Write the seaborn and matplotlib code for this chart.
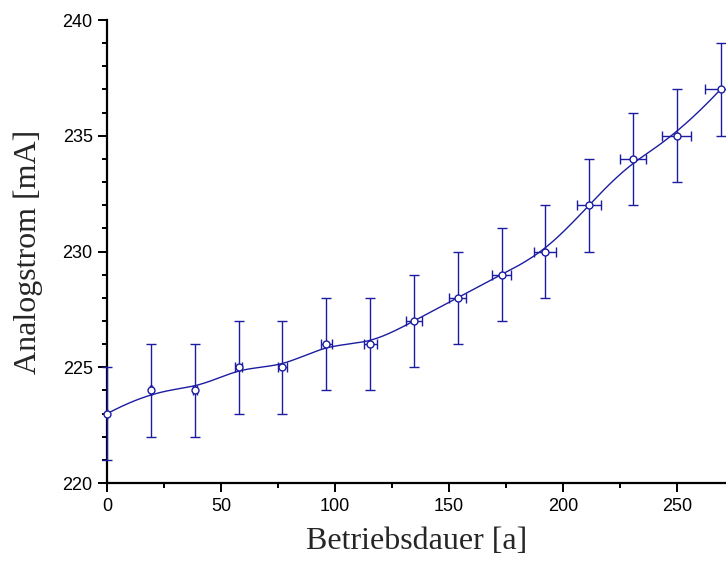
import numpy as np
import pandas as pd
import seaborn as sns
import matplotlib
matplotlib.use("Agg")
import matplotlib.pyplot as plt
from matplotlib.ticker import MultipleLocator

betriebsdauer = [0, 19.2, 38.5, 57.7, 76.9, 96.2, 115.4, 134.6, 153.8, 173.1,
                 192.3, 211.5, 230.8, 250.0, 269.2]
analogstrom = [223, 224, 224, 225, 225, 226, 226, 227, 228, 229,
               230, 232, 234, 235, 237]
x_fehler = [0, 0.5, 1.0, 1.4, 1.9, 2.4, 2.9, 3.4, 3.8, 4.3,
            4.8, 5.3, 5.8, 6.3, 6.7]
y_fehler = [2, 2, 2, 2, 2, 2, 2, 2, 2, 2, 2, 2, 2, 2, 2]

blue = "#1c1ca2"


def bspline(px, py, n_out=400, k=3):
    # clamped uniform B-spline with data points as control points
    pts = np.column_stack([px, py])
    n = len(pts)
    inner = np.arange(1, n - k)
    knots = np.concatenate([np.zeros(k + 1), inner, np.full(k + 1, n - k)]).astype(float)
    t = np.linspace(0, n - k, n_out)
    t[-1] -= 1e-9
    # Cox-de Boor
    N = np.zeros((n_out, len(knots) - 1))
    for i in range(len(knots) - 1):
        N[:, i] = (knots[i] <= t) & (t < knots[i + 1])
    for d in range(1, k + 1):
        Nn = np.zeros((n_out, len(knots) - 1 - d))
        for i in range(len(knots) - 1 - d):
            a = knots[i + d] - knots[i]
            b = knots[i + d + 1] - knots[i + 1]
            left = (t - knots[i]) / a * N[:, i] if a > 0 else 0
            right = (knots[i + d + 1] - t) / b * N[:, i + 1] if b > 0 else 0
            Nn[:, i] = left + right
        N = Nn
    curve = N @ pts
    return curve[:, 0], curve[:, 1]


df = pd.DataFrame({"t": betriebsdauer, "I": analogstrom})
cx, cy = bspline(df["t"].values, df["I"].values)

sns.set_style("ticks")
fig = plt.figure(figsize=(7.26, 5.61), dpi=100)
ax = fig.add_axes([0.1477, 0.139, 0.8523, 0.8253])

sns.lineplot(x=cx, y=cy, ax=ax, color=blue, lw=1.0, sort=False, zorder=2)
ax.errorbar(df["t"], df["I"], xerr=x_fehler, yerr=y_fehler, fmt="none",
            ecolor=blue, elinewidth=1.0, capsize=3.6, capthick=1.0, zorder=3,
            clip_on=False)
ax.plot(df["t"], df["I"], "o", ms=5, mfc="white", mec=blue, mew=1.0,
        zorder=4, clip_on=False)

ax.set_xlim(0, 271.6)
ax.set_ylim(220, 240)
ax.xaxis.set_major_locator(MultipleLocator(50))
ax.xaxis.set_minor_locator(MultipleLocator(25))
ax.yaxis.set_major_locator(MultipleLocator(5))
ax.yaxis.set_minor_locator(MultipleLocator(1))

for s in ["top", "right"]:
    ax.spines[s].set_visible(False)
for s in ["left", "bottom"]:
    ax.spines[s].set_linewidth(1.6)
    ax.spines[s].set_color("black")

ax.tick_params(which="major", direction="out", length=6.5, width=1.4,
               labelsize=13, pad=4, colors="black")
ax.tick_params(which="minor", direction="out", length=3.6, width=1.4, colors="black")
for lab in ax.get_xticklabels() + ax.get_yticklabels():
    lab.set_family(["Liberation Sans", "DejaVu Sans"])

ax.set_xlabel("Betriebsdauer [a]", family=["Liberation Serif", "DejaVu Serif"],
              fontsize=23, labelpad=9)
ax.set_ylabel("Analogstrom [mA]", family=["Liberation Serif", "DejaVu Serif"],
              fontsize=23, labelpad=14)

fig.savefig("out.png", dpi=100)
